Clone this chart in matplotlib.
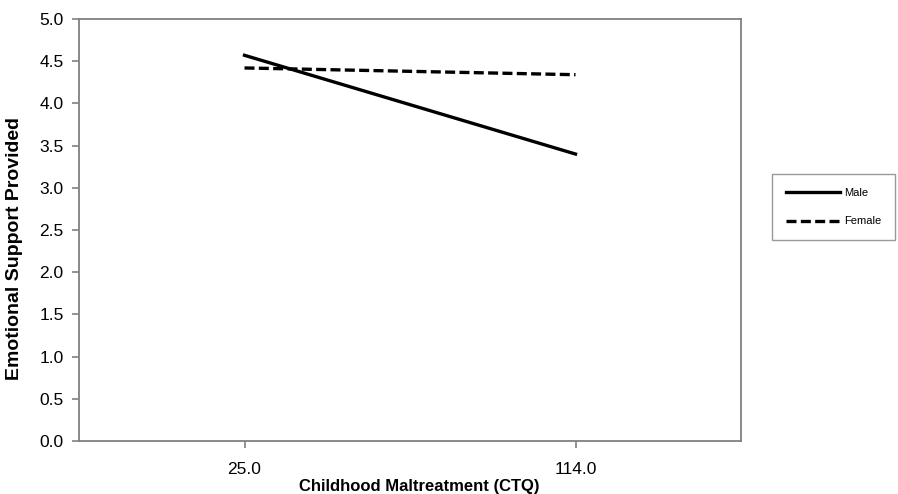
import matplotlib.pyplot as plt

plt.rcParams['font.family'] = ['Liberation Sans', 'DejaVu Sans']

categories = ['25.0', '114.0']
male = [4.57, 3.40]
female = [4.42, 4.34]

fig = plt.figure(figsize=(8.98, 4.94), dpi=100)
ax = fig.add_axes([79 / 898, 1 - 441 / 494, 662 / 898, 422 / 494])

x = range(len(categories))
ax.plot(x, male, color='black', lw=2.4, label='Male')
ax.plot(x, female, color='black', lw=2.4, ls=(0, (3.0, 1.3)), label='Female')

ax.set_xlim(-0.5, 1.5)
ax.set_ylim(0, 5)
ax.set_xticks(list(x))
ax.set_xticklabels(categories)
ax.set_yticks([i * 0.5 for i in range(11)])
ax.set_yticklabels([f'{i * 0.5:.1f}' for i in range(11)])

for s in ['left', 'bottom', 'top', 'right']:
    ax.spines[s].set_color('#808080')
    ax.spines[s].set_linewidth(1.3)
ax.tick_params(colors='#808080', labelcolor='black', labelsize=12.5, length=5, width=1.2)
ax.tick_params(axis='x', pad=10)
ax.tick_params(axis='y', pad=6)

ax.set_xlabel('Childhood Maltreatment (CTQ)', fontsize=12, fontweight='bold')
ax.xaxis.set_label_coords(0.514, -0.091)
ax.set_ylabel('Emotional Support Provided', fontsize=14, fontweight='bold')
ax.yaxis.set_label_coords(-0.084, 0.455)

leg = ax.legend(loc='center left', bbox_to_anchor=(772 / 898, 1 - 207 / 494),
                bbox_transform=fig.transFigure, fontsize=8, frameon=True,
                fancybox=False, edgecolor='#808080', handlelength=4.9,
                labelspacing=1.7, borderpad=1.25, handletextpad=0.3,
                borderaxespad=0)
leg.get_frame().set_linewidth(1.0)

fig.savefig('out.png', dpi=100)
